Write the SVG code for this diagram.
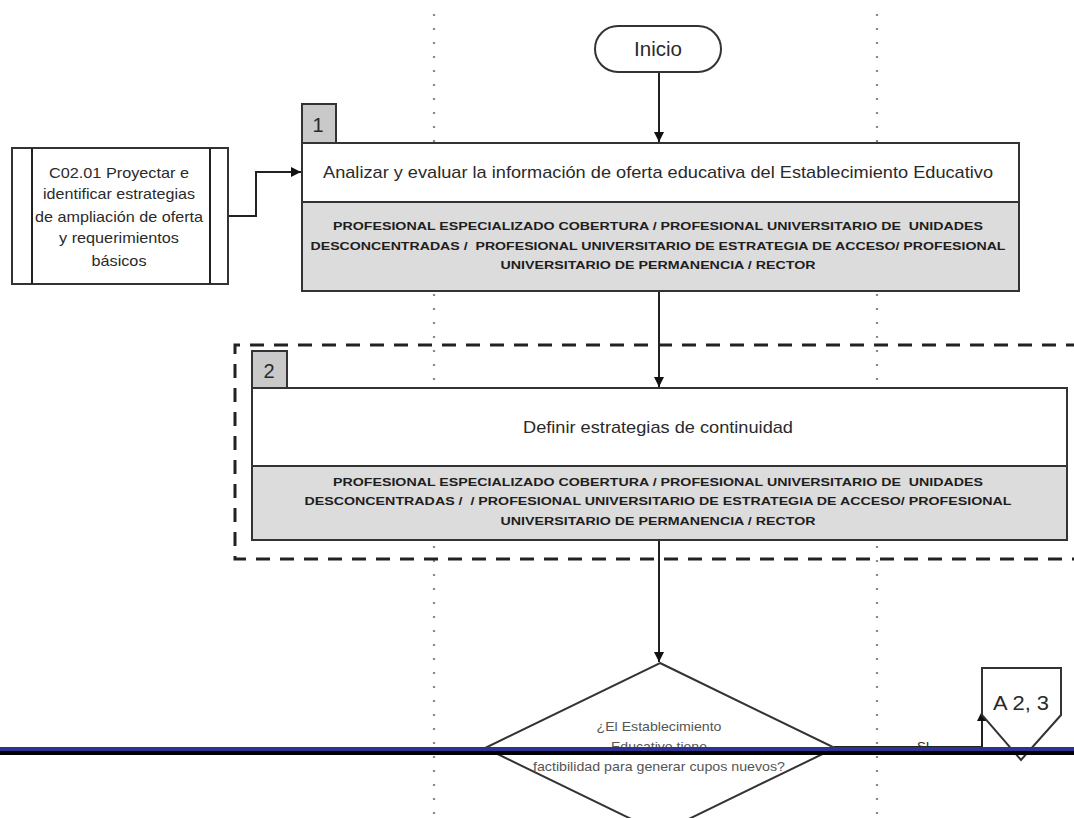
<svg xmlns="http://www.w3.org/2000/svg" width="1074" height="818" viewBox="0 0 1074 818">
  <style>
    .lane { stroke: #8a8a8a; stroke-width: 2.2; stroke-dasharray: 2 12; fill: none; }
    .shape { stroke: #333; stroke-width: 2; fill: #fff; }
    .role { stroke: #333; stroke-width: 2; fill: #dcdcdc; }
    .tab { stroke: #333; stroke-width: 2; fill: #c9c9c9; }
    .conn { stroke: #222; stroke-width: 2; fill: none; }
    .t { font-family: "Liberation Sans", Arial, sans-serif; fill: #2a2a2a; }
    .title { font-size: 17px; text-anchor: middle; }
    .rt { font-size: 11.5px; font-weight: bold; text-anchor: middle; fill: #1e1e1e; }
    .small { font-size: 13px; text-anchor: middle; fill: #555; }
  </style>
  <defs>
    <marker id="arrow" viewBox="0 0 10 10" refX="10" refY="5" markerWidth="5" markerHeight="5" orient="auto" markerUnits="strokeWidth">
      <path d="M0,0 L10,5 L0,10 z" fill="#111"/>
    </marker>
  </defs>
  <rect width="1074" height="818" fill="#fff"/>

  <!-- swimlane separators -->
  <g id="lanes">
    <line class="lane" x1="434" y1="14" x2="434" y2="818"/>
    <line class="lane" x1="877" y1="14" x2="877" y2="818"/>
  </g>

  <!-- group boundary around activity 2 -->
  <g id="group2">
    <path d="M1080,345 L235,345 L235,559 L1080,559" fill="none" stroke="#222" stroke-width="3" stroke-dasharray="14 10"/>
  </g>

  <!-- connectors -->
  <g id="connectors">
    <line class="conn" x1="659" y1="72" x2="659" y2="142" marker-end="url(#arrow)"/>
    <polyline class="conn" points="228,216 256,216 256,172 301,172" marker-end="url(#arrow)"/>
    <line class="conn" x1="659" y1="291" x2="659" y2="387" marker-end="url(#arrow)"/>
    <line class="conn" x1="659" y1="540" x2="659" y2="662" marker-end="url(#arrow)"/>
    <polyline class="conn" points="834,747 982,747 982,711" marker-end="url(#arrow)"/>
    <text class="t" x="917" y="751" font-size="13" fill="#555">SI</text>
  </g>

  <!-- start -->
  <g id="inicio">
    <rect class="shape" x="595" y="26" width="126" height="46" rx="23"/>
    <text class="t" x="658" y="56" font-size="20" text-anchor="middle" textLength="48" lengthAdjust="spacingAndGlyphs">Inicio</text>
  </g>

  <!-- related process -->
  <g id="c0201">
    <rect class="shape" x="12" y="148" width="216" height="136"/>
    <line class="conn" x1="32" y1="148" x2="32" y2="284" stroke="#333"/>
    <line class="conn" x1="210" y1="148" x2="210" y2="284" stroke="#333"/>
    <g class="t" font-size="15" text-anchor="middle" fill="#3a3a3a">
      <text x="119" y="178" textLength="140" lengthAdjust="spacingAndGlyphs">C02.01 Proyectar e</text>
      <text x="119" y="199" textLength="152" lengthAdjust="spacingAndGlyphs">identificar estrategias</text>
      <text x="119" y="222" textLength="168" lengthAdjust="spacingAndGlyphs">de ampliación de oferta</text>
      <text x="119" y="243" textLength="120" lengthAdjust="spacingAndGlyphs">y requerimientos</text>
      <text x="119" y="266" textLength="55" lengthAdjust="spacingAndGlyphs">básicos</text>
    </g>
  </g>

  <!-- activity 1 -->
  <g id="act1">
    <rect class="tab" x="302" y="104" width="34" height="39"/>
    <text class="t" x="318" y="132" font-size="20" text-anchor="middle">1</text>
    <rect class="shape" x="302" y="143" width="717" height="59"/>
    <rect class="role" x="302" y="202" width="717" height="89"/>
    <text class="t title" x="658" y="178" textLength="670" lengthAdjust="spacingAndGlyphs">Analizar y evaluar la información de oferta educativa del Establecimiento Educativo</text>
    <text class="t rt" x="658" y="230" xml:space="preserve" textLength="650" lengthAdjust="spacingAndGlyphs">PROFESIONAL ESPECIALIZADO COBERTURA / PROFESIONAL UNIVERSITARIO DE  UNIDADES</text>
    <text class="t rt" x="658" y="250" xml:space="preserve" textLength="695" lengthAdjust="spacingAndGlyphs">DESCONCENTRADAS /  PROFESIONAL UNIVERSITARIO DE ESTRATEGIA DE ACCESO/ PROFESIONAL</text>
    <text class="t rt" x="658" y="269" textLength="315" lengthAdjust="spacingAndGlyphs">UNIVERSITARIO DE PERMANENCIA / RECTOR</text>
  </g>

  <!-- activity 2 -->
  <g id="act2">
    <rect class="tab" x="252" y="351" width="35" height="37"/>
    <text class="t" x="269" y="378" font-size="20" text-anchor="middle">2</text>
    <rect class="shape" x="252" y="388" width="815" height="78"/>
    <rect class="role" x="252" y="466" width="815" height="74"/>
    <text class="t title" x="658" y="433" textLength="270" lengthAdjust="spacingAndGlyphs">Definir estrategias de continuidad</text>
    <text class="t rt" x="658" y="486" xml:space="preserve" textLength="650" lengthAdjust="spacingAndGlyphs">PROFESIONAL ESPECIALIZADO COBERTURA / PROFESIONAL UNIVERSITARIO DE  UNIDADES</text>
    <text class="t rt" x="658" y="505" xml:space="preserve" textLength="707" lengthAdjust="spacingAndGlyphs">DESCONCENTRADAS /  / PROFESIONAL UNIVERSITARIO DE ESTRATEGIA DE ACCESO/ PROFESIONAL</text>
    <text class="t rt" x="658" y="525" textLength="315" lengthAdjust="spacingAndGlyphs">UNIVERSITARIO DE PERMANENCIA / RECTOR</text>
  </g>

  <!-- decision -->
  <g id="decision">
    <polygon class="shape" points="660,663 835,748 660,833 485,748"/>
    <text class="t small" x="659" y="731" textLength="125" lengthAdjust="spacingAndGlyphs">¿El Establecimiento</text>
    <text class="t small" x="659" y="751" textLength="96" lengthAdjust="spacingAndGlyphs">Educativo tiene</text>
    <text class="t small" x="659" y="771" textLength="252" lengthAdjust="spacingAndGlyphs">factibilidad para generar cupos nuevos?</text>
  </g>

  <!-- off-page reference -->
  <g id="offpage">
    <polygon class="shape" points="982,668 1061,668 1061,715 1021,760 982,715"/>
    <text class="t" x="1021" y="710" font-size="20" text-anchor="middle" textLength="56" lengthAdjust="spacingAndGlyphs">A 2, 3</text>
  </g>

  <!-- page rule -->
  <g id="rule">
    <rect x="0" y="747" width="1074" height="4" fill="#2e3192"/>
    <rect x="0" y="751" width="1074" height="4" fill="#000"/>
  </g>
</svg>
